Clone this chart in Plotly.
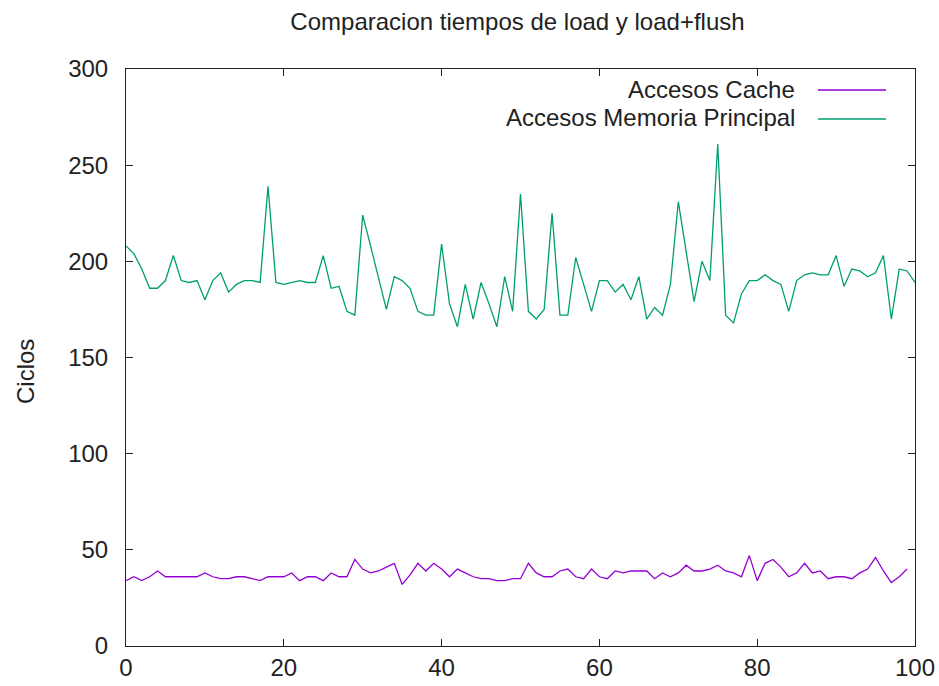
import plotly.graph_objects as go

title_text = "Comparacion tiempos de load y load+flush"
y_label = "Ciclos"
name_cache = "Accesos Cache"
name_mem = "Accesos Memoria Principal"

cache_vals = [
    34, 36, 34, 36, 39, 36, 36, 36, 36, 36,
    38, 36, 35, 35, 36, 36, 35, 34, 36, 36,
    36, 38, 34, 36, 36, 34, 38, 36, 36, 45,
    40, 38, 39, 41, 43, 32, 37, 43, 39, 43,
    40, 36, 40, 38, 36, 35, 35, 34, 34, 35,
    35, 43, 38, 36, 36, 39, 40, 36, 35, 40,
    36, 35, 39, 38, 39, 39, 39, 35, 38, 36,
    38, 42, 39, 39, 40, 42, 39, 38, 36, 47,
    34, 43, 45, 41, 36, 38, 43, 38, 39, 35,
    36, 36, 35, 38, 40, 46, 39, 33, 36, 40,
]
mem_vals = [
    208, 204, 196, 186, 186, 190, 203, 190, 189, 190,
    180, 190, 194, 184, 188, 190, 190, 189, 239, 189,
    188, 189, 190, 189, 189, 203, 186, 187, 174, 172,
    224, 208, 191, 175, 192, 190, 186, 174, 172, 172,
    209, 178, 166, 188, 170, 189, 178, 166, 192, 174,
    235, 174, 170, 175, 225, 172, 172, 202, 188, 174,
    190, 190, 184, 188, 180, 192, 170, 176, 172, 188,
    231, 205, 179, 200, 190, 261, 172, 168, 183, 190,
    190, 193, 190, 188, 174, 190, 193, 194, 193, 193,
    203, 187, 196, 195, 192, 194, 203, 170, 196, 195,
    189,
]
cache_x = list(range(len(cache_vals)))
mem_x = list(range(len(mem_vals)))

x_ticks = [0, 20, 40, 60, 80, 100]
y_ticks = [0, 50, 100, 150, 200, 250, 300]

C_CACHE = "#9400D3"
C_MEM = "#009E73"
FONT = "Liberation Sans, Arial, sans-serif"
AX = "#222222"

fig = go.Figure()
fig.add_trace(go.Scatter(x=cache_x, y=cache_vals, mode="lines", name=name_cache,
                         line=dict(color=C_CACHE, width=1.3)))
fig.add_trace(go.Scatter(x=mem_x, y=mem_vals, mode="lines", name=name_mem,
                         line=dict(color=C_MEM, width=1.3)))

axis_common = dict(showgrid=False, zeroline=False, showline=True, linecolor=AX,
                   linewidth=1, mirror="allticks", ticks="inside", ticklen=7,
                   tickcolor=AX, tickwidth=1, automargin=False,
                   tickfont=dict(family=FONT, size=24, color="#222"))
fig.update_xaxes(range=[0, 100], tickvals=x_ticks, ticklabelstandoff=0, **axis_common)
fig.update_yaxes(range=[0, 300], tickvals=y_ticks, ticklabelstandoff=12, **axis_common)

# gnuplot-style key: right-aligned text followed by line sample
L, R, T, B = 126, 915, 69, 646
W, H = R - L, B - T
def px(x):
    return (x - L) / W
def py(y):
    return (B - y) / H

key = [(name_cache, C_CACHE, 89), (name_mem, C_MEM, 118)]
for name, col, ypix in key:
    fig.add_annotation(x=px(797), y=py(ypix), xref="paper", yref="paper", text=name,
                       showarrow=False, xanchor="right", yanchor="middle",
                       font=dict(family=FONT, size=24, color="#222"))
    fig.add_shape(type="line", xref="paper", yref="paper", x0=px(818), x1=px(886),
                  y0=py(ypix + 1), y1=py(ypix + 1), line=dict(color=col, width=1.3))

fig.add_annotation(x=px(25), y=py(372), xref="paper", yref="paper", text=y_label,
                   showarrow=False, textangle=-90, xanchor="center", yanchor="middle",
                   font=dict(family=FONT, size=24, color="#222"))

fig.update_layout(
    width=939, height=686,
    margin=dict(l=L, r=939 - R, t=T, b=686 - B),
    paper_bgcolor="white", plot_bgcolor="white",
    showlegend=False,
    title=dict(text=title_text, x=517.5 / 939, xanchor="center",
               y=1 - 22 / 686, yanchor="middle",
               font=dict(family=FONT, size=24, color="#222")),
)

fig.write_html("out.html", config={"displayModeBar": False},
               post_script="document.body.style.margin='0';document.body.style.overflow='hidden';")
